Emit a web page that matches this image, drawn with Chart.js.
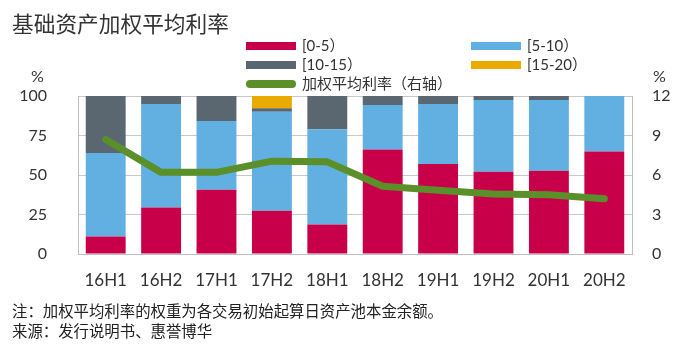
<!DOCTYPE html>
<html>
<head>
<meta charset="utf-8">
<script src="https://cdn.jsdelivr.net/npm/chart.js@4"></script>
<style>
  body { margin: 0; width: 688px; height: 352px; background: #fff; overflow: hidden; position: relative; font-family: Lato, "Noto Sans CJK SC", sans-serif; }
  #wrap { position: absolute; left: 0; top: 0; width: 688px; height: 352px; }
  .title { position: absolute; left: 12px; top: 8px; font-size: 21.7px; color: #333; font-family: "Noto Sans CJK SC", sans-serif; line-height: 30px; }
  .leg { position: absolute; height: 19px; line-height: 19px; font-size: 15px; color: #333; white-space: nowrap; font-family: Lato, "Noto Sans CJK SC", sans-serif; }
  .leg i { position: absolute; left: 0; top: 6px; width: 50px; height: 8px; }
  .leg span { position: absolute; left: 56px; top: 0; }
  .pct { position: absolute; top: 66px; font-size: 16px; color: #333; }
  .note { position: absolute; left: 12px; font-size: 15.4px; color: #222; font-family: "Noto Sans CJK SC", sans-serif; line-height: 20px; }
</style>
</head>
<body>
<div id="wrap"><canvas id="chart" width="688" height="352"></canvas></div>
<div class="title">基础资产加权平均利率</div>
<div id="legend"></div>
<div class="pct" style="left:31px">%</div>
<div class="pct" style="left:653px">%</div>
<div class="note" style="top:300px">注：加权平均利率的权重为各交易初始起算日资产池本金余额。</div>
<div class="note" style="top:320px">来源：发行说明书、惠誉博华</div>
<script>
const labels = ['16H1', '16H2', '17H1', '17H2', '18H1', '18H2', '19H1', '19H2', '20H1', '20H2'];
const share0to5 = [11, 29.5, 40.7, 27.4, 18.6, 66.2, 57, 52, 52.7, 64.8];
const share5to10 = [53, 65.5, 43.5, 62.6, 60.4, 28.1, 38, 45.5, 44.8, 35.2];
const share10to15 = [36, 5, 15.8, 2.2, 21, 5.7, 5, 2.5, 2.5, 0];
const share15to20 = [0, 0, 0, 7.8, 0, 0, 0, 0, 0, 0];
const avgRate = [8.7, 6.2, 6.2, 7.05, 7.0, 5.15, 4.85, 4.55, 4.5, 4.2];

const RED = '#C8004A', BLUE = '#62AFE2', GREY = '#5B6770', GOLD = '#EBAA00', GREEN = '#5A8F29';

// legend laid out like the original: two columns, line item on the third row
const legendItems = [
  { text: '[0-5）', color: RED, x: 246, y: 36 },
  { text: '[5-10）', color: BLUE, x: 471, y: 36 },
  { text: '[10-15）', color: GREY, x: 246, y: 55 },
  { text: '[15-20）', color: GOLD, x: 471, y: 55 },
  { text: '加权平均利率（右轴）', color: GREEN, x: 246, y: 74, line: true }
];
const legendEl = document.getElementById('legend');
legendItems.forEach(it => {
  const d = document.createElement('div');
  d.className = 'leg';
  d.style.left = it.x + 'px';
  d.style.top = it.y + 'px';
  const r = it.line ? 'border-radius:4px;' : '';
  d.innerHTML = '<i style="background:' + it.color + ';' + r + '"></i><span>' + it.text + '</span>';
  legendEl.appendChild(d);
});

const tickFont = { family: 'Lato', size: 16 };

new Chart(document.getElementById('chart'), {
  type: 'bar',
  data: {
    labels: labels,
    datasets: [
      { type: 'line', label: '加权平均利率（右轴）', data: avgRate, yAxisID: 'y1', borderColor: GREEN, borderWidth: 7, pointRadius: 0, borderCapStyle: 'round', borderJoinStyle: 'round', tension: 0, order: 0 },
      { label: '[0-5）', data: share0to5, backgroundColor: RED, yAxisID: 'y', order: 1 },
      { label: '[5-10）', data: share5to10, backgroundColor: BLUE, yAxisID: 'y', order: 1 },
      { label: '[10-15）', data: share10to15, backgroundColor: GREY, yAxisID: 'y', order: 1 },
      { label: '[15-20）', data: share15to20, backgroundColor: GOLD, yAxisID: 'y', order: 1 }
    ]
  },
  options: {
    responsive: false,
    animation: false,
    devicePixelRatio: 1,
    barPercentage: 0.72,
    categoryPercentage: 1,
    layout: { padding: { left: 0, right: 0, top: 96, bottom: 58 } },
    plugins: { legend: { display: false }, tooltip: { enabled: false } },
    scales: {
      x: {
        stacked: true,
        grid: { display: false, drawTicks: false },
        border: { display: true, color: '#BFBFBF' },
        ticks: { font: { family: 'Lato', size: 17 }, color: '#333', padding: 16, maxRotation: 0 },
        afterFit: s => { s.height = 40; }
      },
      y: {
        stacked: true,
        min: 0,
        max: 100,
        ticks: { stepSize: 25, font: tickFont, color: '#333', padding: 31 },
        grid: { color: '#C8C8C8', drawTicks: false },
        border: { display: true, color: '#BFBFBF' },
        afterFit: s => { s.width = 78; }
      },
      y1: {
        position: 'right',
        min: 0,
        max: 12,
        ticks: { stepSize: 3, font: tickFont, color: '#333', padding: 20 },
        grid: { display: false, drawTicks: false },
        border: { display: true, color: '#BFBFBF' },
        afterFit: s => { s.width = 56; }
      }
    }
  }
});
</script>
</body>
</html>
